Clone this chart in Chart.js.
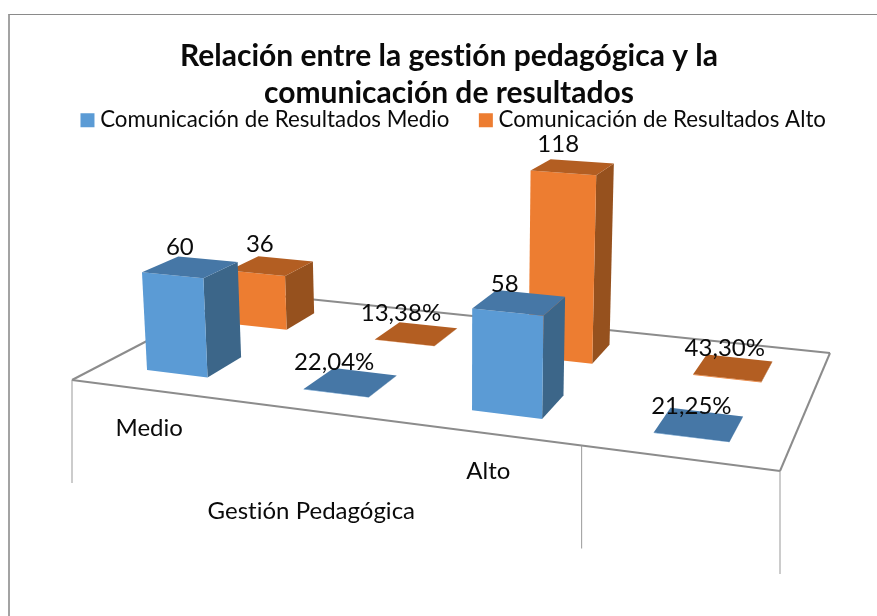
<!DOCTYPE html>
<html lang="es">
<head>
<meta charset="utf-8">
<title>Relación entre la gestión pedagógica y la comunicación de resultados</title>
<script src="https://cdn.jsdelivr.net/npm/chart.js@4/dist/chart.umd.min.js"></script>
<style>
  html, body { margin: 0; background: #fff; }
  #wrap { position: relative; width: 877px; height: 616px; overflow: hidden; }
  #frame { position: absolute; left: 8px; top: 14px; width: 900px; height: 640px; border-left: 2px solid #a3a3a3; border-top: 1px solid #8a8a8a; }
  canvas { position: absolute; left: 0; top: 0; }
</style>
</head>
<body>
<div id="wrap">
  <div id="frame"></div>
  <canvas id="chart" width="877" height="616"></canvas>
</div>
<script>
const titleLines = ["Relación entre la gestión pedagógica y la", "comunicación de resultados"];
const categories = ["Medio", "", "Alto", ""];
const groupLabel = "Gestión Pedagógica";
const seriesNames = ["Comunicación de Resultados Medio", "Comunicación de Resultados Alto"];
const medioValues = [60, 0.2204, 58, 0.2125];
const altoValues = [36, 0.1338, 118, 0.433];
const seriesFront = ["#5b9bd5", "#ed7d31"];
const seriesTop = ["#4677a6", "#b35e22"];
const seriesSide = ["#3c6689", "#96511e"];

const FONT = "Lato, Carlito, sans-serif";
const TEXT_COLOR = "#0a0a0a";

// floor of the 3d box as it lands on the screen, front left first
const floorCorners = [[72, 380], [780, 471], [830, 353], [241, 292]];
const vanishX = 463;
const vanishY = 6463;
const yMax = 120;
const heightRange = 200; // px that yMax reaches at the floor's reference depth
const rowDepth = 0.1;
// how far each value label sits from the middle of its box top
const labelShiftX = [[-10, -16, -14, -7], [-11, -15, -14, -8]];
const labelShiftY = [[-20, -20, -18, -18], [-22, -21, -23, -20]];

function floorMapper(c) {
  const dx1 = c[1][0] - c[2][0], dx2 = c[3][0] - c[2][0];
  const dy1 = c[1][1] - c[2][1], dy2 = c[3][1] - c[2][1];
  const sx = c[0][0] - c[1][0] + c[2][0] - c[3][0];
  const sy = c[0][1] - c[1][1] + c[2][1] - c[3][1];
  const den = dx1 * dy2 - dx2 * dy1;
  const g = (sx * dy2 - dx2 * sy) / den;
  const h = (dx1 * sy - sx * dy1) / den;
  const a = c[1][0] - c[0][0] + g * c[1][0];
  const b = c[3][0] - c[0][0] + h * c[3][0];
  const d = c[1][1] - c[0][1] + g * c[1][1];
  const e = c[3][1] - c[0][1] + h * c[3][1];
  return (u, v) => {
    const w = g * u + h * v + 1;
    return { x: (a * u + b * v + c[0][0]) / w, y: (d * u + e * v + c[0][1]) / w, w };
  };
}

const floorAt = floorMapper(floorCorners);

function raise(p, px) {
  const rise = px / p.w;
  const lean = (p.x - vanishX) / (vanishY - p.y);
  return { x: p.x + lean * rise, y: p.y - rise };
}

function fillFace(ctx, pts, color) {
  ctx.beginPath();
  pts.forEach((p, i) => (i ? ctx.lineTo(p.x, p.y) : ctx.moveTo(p.x, p.y)));
  ctx.closePath();
  ctx.fillStyle = color;
  ctx.fill();
}

function strokeLine(ctx, a, b, color, width) {
  ctx.beginPath();
  ctx.moveTo(a.x, a.y);
  ctx.lineTo(b.x, b.y);
  ctx.strokeStyle = color;
  ctx.lineWidth = width;
  ctx.stroke();
}

function formatValue(v) {
  return v < 1 ? (v * 100).toFixed(2).replace(".", ",") + "%" : String(v);
}

function drawText(ctx, text, x, y) {
  ctx.font = "24px " + FONT;
  ctx.fillStyle = TEXT_COLOR;
  ctx.textAlign = "center";
  ctx.textBaseline = "middle";
  ctx.fillText(text, x, y);
}

function drawFloor(ctx) {
  const fl = floorAt(0, 0), fr = floorAt(1, 0), br = floorAt(1, 1), bl = floorAt(0, 1);
  strokeLine(ctx, bl, br, "#8c8c8c", 2);
  strokeLine(ctx, bl, fl, "#8c8c8c", 2);
  strokeLine(ctx, br, fr, "#8c8c8c", 2);
  strokeLine(ctx, fl, fr, "#8c8c8c", 2);
  [0, 0.75, 1].forEach((u) => {
    const p = floorAt(u, 0);
    strokeLine(ctx, p, { x: p.x, y: p.y + 103 }, "#999999", 1);
  });
}

function drawBar(ctx, chart, datasetIndex, el) {
  const area = chart.chartArea;
  const uc = (el.x - area.left) / area.width;
  const hw = el.width / 2 / area.width;
  const vc = (datasetIndex + 0.5) / 2;
  const z = ((el.base - el.y) / area.height) * heightRange;

  const b = [
    floorAt(uc - hw, vc - rowDepth),
    floorAt(uc + hw, vc - rowDepth),
    floorAt(uc + hw, vc + rowDepth),
    floorAt(uc - hw, vc + rowDepth),
  ];
  const t = b.map((p) => raise(p, z));

  fillFace(ctx, [b[1], b[2], t[2], t[1]], seriesSide[datasetIndex]);
  fillFace(ctx, [b[0], b[1], t[1], t[0]], seriesFront[datasetIndex]);
  fillFace(ctx, t, seriesTop[datasetIndex]);
  return { x: (t[0].x + t[2].x) / 2, y: (t[0].y + t[2].y) / 2 };
}

const box3d = {
  id: "box3d",
  beforeLayout(chart) {
    // keeps Lato from joining "ti" into a ligature, set before the legend measures
    chart.ctx.letterSpacing = "0.01px";
  },
  beforeDatasetDraw() {
    return false; // the flat bars are replaced by the boxes below
  },
  afterDatasetsDraw(chart) {
    const ctx = chart.ctx;
    ctx.save();
    drawFloor(ctx);

    const labels = [];
    for (let i = chart.data.datasets.length - 1; i >= 0; i -= 1) {
      chart.getDatasetMeta(i).data.forEach((el, j) => {
        const top = drawBar(ctx, chart, i, el);
        labels.push({
          text: formatValue(chart.data.datasets[i].data[j]),
          x: top.x + labelShiftX[i][j],
          y: top.y + labelShiftY[i][j],
        });
      });
    }
    labels.forEach((l) => drawText(ctx, l.text, l.x, l.y));

    const area = chart.chartArea;
    const xScale = chart.scales.x;
    const groundU = (j) => (xScale.getPixelForValue(j) - area.left) / area.width;
    categories.forEach((name, j) => {
      if (!name) return;
      const p = floorAt(groundU(j), 0);
      drawText(ctx, name, p.x, p.y + 38);
    });
    const g = floorAt(groundU(1), 0);
    drawText(ctx, groupLabel, g.x - 1, g.y + 100);
    ctx.restore();
  },
};

new Chart(document.getElementById("chart"), {
  type: "bar",
  data: {
    labels: categories,
    datasets: [
      { label: seriesNames[0], data: medioValues, backgroundColor: seriesFront[0], grouped: false },
      { label: seriesNames[1], data: altoValues, backgroundColor: seriesFront[1], grouped: false },
    ],
  },
  options: {
    responsive: false,
    animation: false,
    events: [],
    barPercentage: 0.395,
    categoryPercentage: 1,
    layout: { padding: { left: 37, right: 16 } },
    plugins: {
      title: {
        display: true,
        text: titleLines,
        color: TEXT_COLOR,
        font: { family: FONT, size: 30, weight: "bold", lineHeight: 1.233 },
        padding: { top: 38, bottom: -38 },
      },
      legend: {
        display: true,
        position: "top",
        align: "end",
        labels: {
          color: TEXT_COLOR,
          font: { family: FONT, size: 22.3 },
          usePointStyle: true,
          pointStyle: "rect",
          boxWidth: 3,
          boxHeight: 14,
          padding: 35,
        },
      },
      tooltip: { enabled: false },
    },
    scales: {
      x: { display: false },
      y: { display: false, min: 0, max: yMax },
    },
  },
  plugins: [box3d],
});
</script>
</body>
</html>
